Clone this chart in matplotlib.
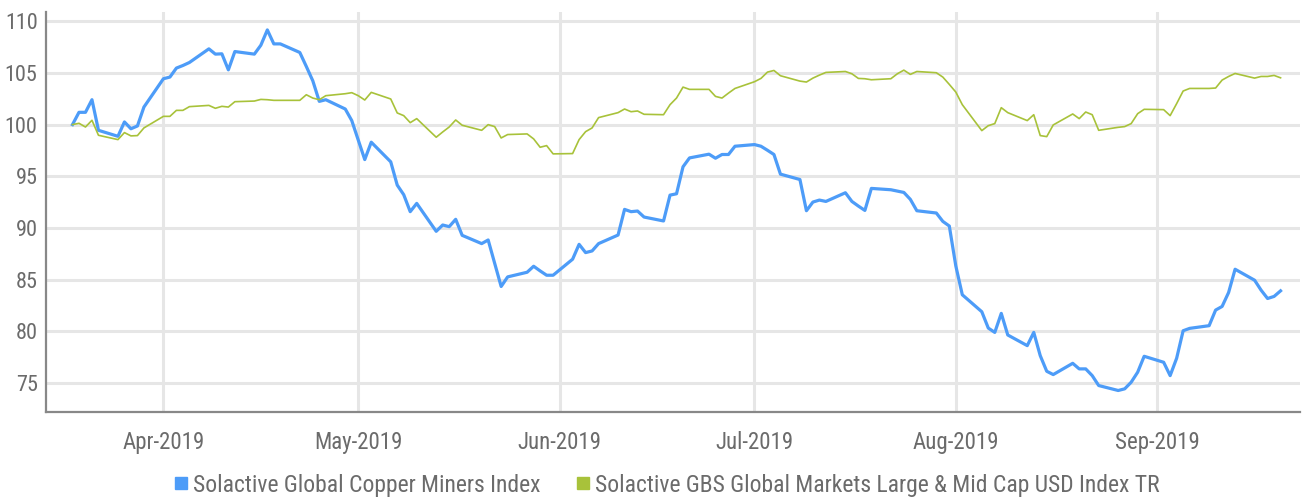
import numpy as np
import pandas as pd
import matplotlib
matplotlib.use("Agg")
import matplotlib.pyplot as plt
import matplotlib.dates as mdates
from matplotlib import font_manager
from matplotlib.lines import Line2D

# business days shown in the chart
dates = pd.bdate_range("2019-03-18", "2019-09-20")

copper = [
    # Mar
    100.0, 101.19, 101.19, 102.41, 99.45, 98.87, 100.26, 99.6, 99.87, 101.7,
    # Apr
    104.44, 104.6, 105.47, 105.72, 106.01, 107.33, 106.82, 106.85, 105.3, 107.07,
    106.82, 107.68, 109.16, 107.81, 107.81, 106.98, 105.63, 104.24, 102.25, 102.41,
    101.51, 100.39,
    # May
    98.49, 96.62, 98.30, 96.40, 94.15, 93.22, 91.58, 92.38, 89.68, 90.29,
    90.13, 90.84, 89.29, 88.49, 88.84, 86.6, 84.34, 85.27, 85.72, 86.30,
    85.85, 85.43, 85.43,
    # Jun
    86.98, 88.42, 87.62, 87.78, 88.49, 89.32, 91.80, 91.58, 91.64, 91.06,
    90.68, 93.18, 93.31, 95.92, 96.78, 97.14, 96.75, 97.11, 97.11, 97.91,
    # Jul
    98.07, 97.91, 97.52, 97.11, 95.21, 94.69, 91.67, 92.51, 92.70, 92.57,
    93.41, 92.57, 92.12, 91.70, 93.83, 93.70, 93.57, 93.44, 92.77, 91.67,
    91.45, 90.64, 90.19,
    # Aug
    86.33, 83.54, 81.90, 80.32, 79.90, 81.74, 79.65, 78.62, 79.90, 77.65,
    76.14, 75.82, 76.91, 76.37, 76.37, 75.72, 74.76, 74.28, 74.44, 75.08,
    76.05, 77.59,
    # Sep
    77.01, 75.72, 77.40, 80.06, 80.29, 80.55, 82.06, 82.41, 83.76, 86.01,
    84.95, 83.99, 83.18, 83.38, 83.92,
]

gbs = [
    # Mar
    100.0, 100.13, 99.77, 100.42, 98.97, 98.55, 99.23, 98.91, 98.94, 99.68,
    # Apr
    100.80, 100.80, 101.38, 101.38, 101.74, 101.86, 101.58, 101.77, 101.70, 102.22,
    102.28, 102.44, 102.41, 102.35, 102.35, 102.35, 102.89, 102.57, 102.41, 102.80,
    102.99, 103.09,
    # May
    102.80, 102.38, 103.12, 102.48, 101.13, 100.87, 100.19, 100.58, 98.78, 99.29,
    99.77, 100.45, 99.94, 99.45, 100.0, 99.81, 98.71, 99.04, 99.10, 98.62,
    97.81, 97.97, 97.17,
    # Jun
    97.20, 98.55, 99.32, 99.68, 100.68, 101.16, 101.51, 101.25, 101.32, 101.0,
    100.96, 101.93, 102.57, 103.63, 103.41, 103.41, 102.73, 102.57, 103.05, 103.50,
    # Jul
    104.15, 104.47, 105.08, 105.24, 104.73, 104.21, 104.12, 104.50, 104.79, 105.05,
    105.14, 104.92, 104.47, 104.44, 104.34, 104.44, 104.92, 105.27, 104.86, 105.14,
    105.02, 104.60, 103.89,
    # Aug
    103.15, 101.93, 99.42, 99.90, 100.10, 101.64, 101.16, 100.39, 100.96, 98.94,
    98.84, 99.97, 101.03, 100.58, 101.22, 100.96, 99.45, 99.74, 99.81, 100.10,
    101.06, 101.48,
    # Sep
    101.45, 100.87, 102.03, 103.25, 103.50, 103.50, 103.54, 104.31, 104.66, 104.95,
    104.50, 104.66, 104.66, 104.76, 104.53,
]

labels = ["Solactive Global Copper Miners Index",
          "Solactive GBS Global Markets Large & Mid Cap USD Index TR"]
colors = ["#4D9CF8", "#A8C23A"]
y_ticks = [75, 80, 85, 90, 95, 100, 105, 110]
month_ticks = pd.date_range("2019-04-01", "2019-09-01", freq="MS")

# pick a narrow font if one is around
available = {f.name for f in font_manager.fontManager.ttflist}
fam = [f for f in ["Liberation Sans Narrow", "Roboto Condensed", "Roboto"] if f in available]
plt.rcParams["font.family"] = fam + ["DejaVu Sans"]
txt = "#6b6b6b"

fig = plt.figure(figsize=(13.02, 4.98), dpi=100)
ax = fig.add_axes([0.0353, 0.1727, 0.9632, 0.8033])

ax.plot(dates, copper, color=colors[0], lw=2.3, zorder=3, solid_joinstyle="round")
ax.plot(dates, gbs, color=colors[1], lw=1.2, zorder=3)

ax.set_xlim(pd.Timestamp("2019-03-13 22:00"), pd.Timestamp("2019-09-23"))
ax.set_ylim(72.2, 110.9)

ax.set_yticks(y_ticks)
ax.set_xticks(month_ticks)
ax.xaxis.set_major_formatter(mdates.DateFormatter("%b-%Y"))
ax.tick_params(axis="y", length=0, labelsize=16, colors=txt, pad=6)
ax.tick_params(axis="x", length=0, labelsize=16.5, colors=txt, pad=14)

ax.grid(True, color="#e6e6e6", lw=2.2, zorder=0)
ax.set_axisbelow(True)
for s in ["top", "right"]:
    ax.spines[s].set_visible(False)
for s in ["left", "bottom"]:
    ax.spines[s].set_color("#888888")
    ax.spines[s].set_linewidth(1.6)

handles = [Line2D([], [], ls="none", marker="s", markersize=9, color=c) for c in colors]
fig.legend(handles, labels, loc="center", bbox_to_anchor=(0.511, 0.026), ncol=2,
           frameon=False, fontsize=17, labelcolor=txt, handletextpad=0.1,
           columnspacing=1.4, handlelength=0.8)

fig.savefig("out.png", dpi=100)
